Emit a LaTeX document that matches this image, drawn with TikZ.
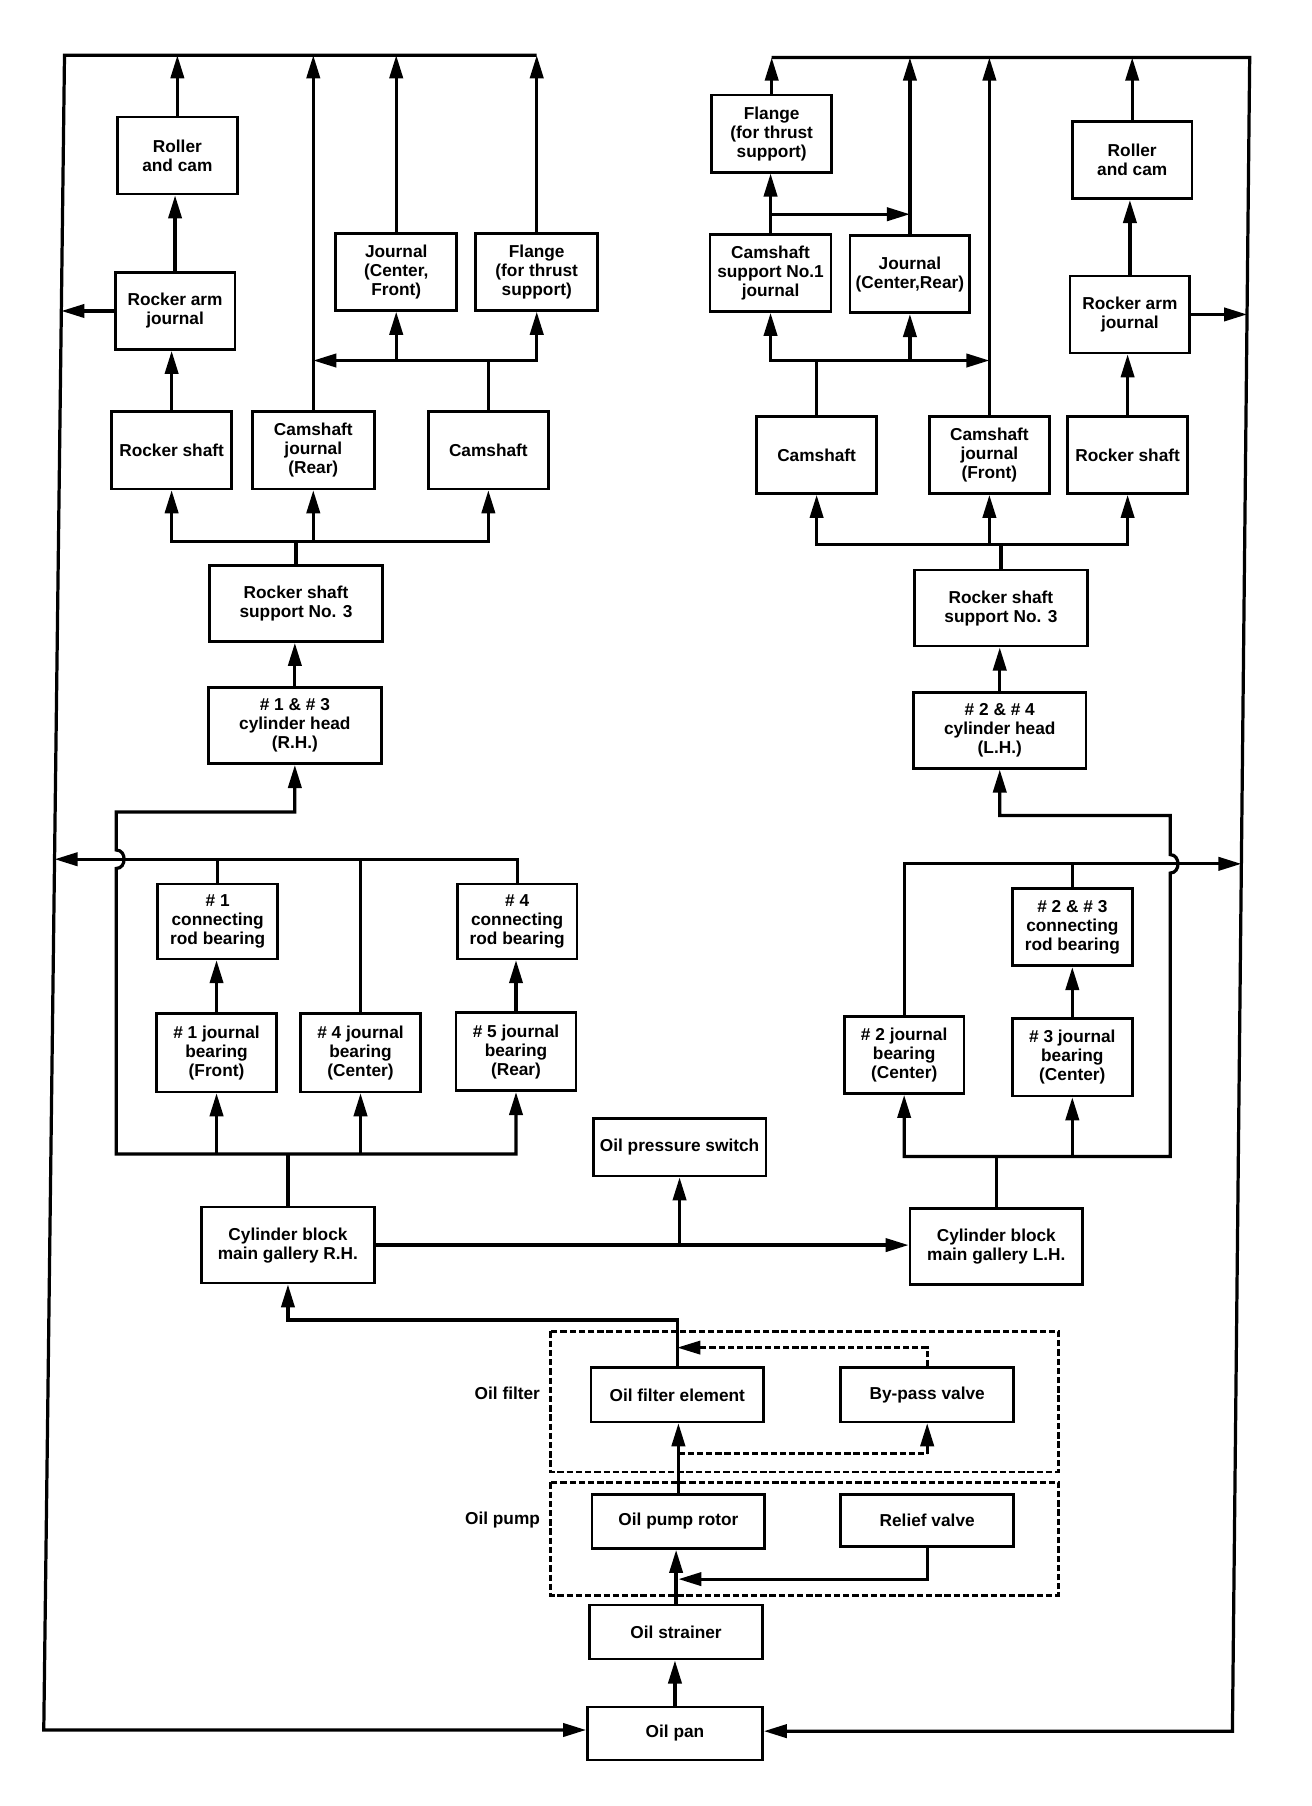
\documentclass[tikz,border=0pt]{standalone}
\usepackage{fontspec}
\setmainfont{Liberation Sans}
\usetikzlibrary{arrows.meta}
\begin{document}
\begin{tikzpicture}[x=1pt,y=-1pt,
  box/.style={draw,line width=2.3pt,align=center,inner sep=0pt,
    font=\fontsize{15}{16.5}\selectfont\bfseries,
    minimum width=104pt,minimum height=67pt},
  wide/.style={minimum width=150pt},
  low/.style={minimum height=47pt},
  lbl/.style={font=\fontsize{15}{16.5}\selectfont\bfseries,inner sep=0pt},
  ln/.style={line width=2.8pt},
  arr/.style={ln,-{Triangle[length=20pt,width=11.5pt]}},
  arrb/.style={ln,{Triangle[length=20pt,width=11.5pt]}-{Triangle[length=20pt,width=11.5pt]}},
  dsh/.style={line width=2.4pt,dash pattern=on 5.5pt off 2.5pt}
]
\fill[white] (0,0) rectangle (1139,1568);
\useasboundingbox (0,0) rectangle (1139,1568);

% ---------- left side nodes ----------
\node[box] (lrc) at (154,135) {Roller\\and cam};
\node[box] (lraj) at (152,270) {Rocker arm\\journal};
\node[box] (lrs) at (149,391) {Rocker shaft};
\node[box,minimum width=106pt] (lcj) at (272,391) {Camshaft\\journal\\(Rear)};
\node[box] (lcs) at (424,391) {Camshaft};
\node[box,minimum width=105pt] (ljcf) at (344,236) {Journal\\(Center,\\Front)};
\node[box,minimum width=106pt] (lfl) at (466,236) {Flange\\(for thrust\\support)};
\node[box,wide,minimum height=66pt] (lrss) at (257,524) {Rocker shaft\\support No. 3};
\node[box,wide,minimum height=66pt] (lch) at (256,630) {\# 1 \& \# 3\\cylinder head\\(R.H.)};
\node[box,minimum height=65pt] (lcr1) at (189,800) {\# 1\\connecting\\rod bearing};
\node[box,minimum height=65pt] (lcr4) at (449,800) {\# 4\\connecting\\rod bearing};
\node[box,minimum height=68pt] (ljb1) at (188,914) {\# 1 journal\\bearing\\(Front)};
\node[box,minimum height=68pt] (ljb4) at (313,914) {\# 4 journal\\bearing\\(Center)};
\node[box,minimum height=68pt] (ljb5) at (448,913) {\# 5 journal\\bearing\\(Rear)};
\node[box,wide,minimum height=66pt] (lmg) at (250,1081) {Cylinder block\\main gallery R.H.};
\node[box,wide,minimum height=50pt] (ops) at (590,996) {Oil pressure switch};
\node[box,wide,minimum height=66pt] (rmg) at (865,1082) {Cylinder block\\main gallery L.H.};

% ---------- right side nodes ----------
\node[box] (rfl) at (670,116) {Flange\\(for thrust\\support)};
\node[box,minimum width=105pt] (rcs1) at (669,237) {Camshaft\\support No.1\\journal};
\node[box] (rjcr) at (790,238) {Journal\\(Center,Rear)};
\node[box] (rrc) at (983,139) {Roller\\and cam};
\node[box] (rraj) at (981,273) {Rocker arm\\journal};
\node[box] (rcs) at (709,395) {Camshaft};
\node[box] (rcj) at (859,395) {Camshaft\\journal\\(Front)};
\node[box] (rrs) at (979,395) {Rocker shaft};
\node[box,wide,minimum height=66pt] (rrss) at (869,528) {Rocker shaft\\support No. 3};
\node[box,wide,minimum height=66pt] (rch) at (868,634) {\# 2 \& \# 4\\cylinder head\\(L.H.)};
\node[box] (rcr) at (931,805) {\# 2 \& \# 3\\connecting\\rod bearing};
\node[box] (rjb2) at (785,916) {\# 2 journal\\bearing\\(Center)};
\node[box] (rjb3) at (931,918) {\# 3 journal\\bearing\\(Center)};

% ---------- bottom nodes ----------
\node[box,wide,low] (ofe) at (588,1211) {Oil filter element};
\node[box,wide,low] (bpv) at (805,1211) {By-pass valve};
\node[box,wide,low] (opr) at (589,1321) {Oil pump rotor};
\node[box,wide,minimum height=45pt] (rv) at (805,1320) {Relief valve};
\node[box,wide,low] (ost) at (587,1417) {Oil strainer};
\node[box,minimum width=152pt,minimum height=46pt] (pan) at (586,1505) {Oil pan};
\node[lbl,anchor=east] (lflt) at (469,1210) {Oil filter};
\node[lbl,anchor=east] (lpmp) at (469,1320) {Oil pump};
\draw[dsh] (478,1156) rectangle (919,1278);
\draw[dsh] (478,1287) rectangle (919,1385);

% ---------- helper coordinates ----------
\coordinate (ftl) at (56,48);
\coordinate (fbl) at (38,1502);
\coordinate (ftr) at (1085,50);
\coordinate (fbr) at (1070,1503);
\coordinate (fl1) at (53.3,270);
\coordinate (fl2) at (47.4,746);
\coordinate (fr1) at (1082.7,273);
\coordinate (fr2) at (1077.8,750);
\coordinate (lh1) at (424,313);
\coordinate (lh2) at (257,470);
\coordinate (lh3) at (250,1002);
\coordinate (rh0) at (669,186);
\coordinate (rh1) at (709,313);
\coordinate (rh2) at (869,473);
\coordinate (rh3) at (865,1004);
\coordinate (rh4) at (1016,708);
\coordinate (g1) at (590,1146);
\coordinate (d1) at (806,1170);
\coordinate (d2) at (806,1262);
\coordinate (d3) at (805,1371);

% ---------- frame ----------
\draw[arr] (lfl.north |- ftl) -- (ftl) -- (fbl) -- (fbl -| pan.west);
\draw[arr] (rfl.north |- ftr) -- (ftr) -- (fbr) -- (fbr -| pan.east);

% ---------- left upper ----------
\draw[arr] (lrc.north) -- (lrc.north |- ftl);
\draw[arr] (lraj.north) -- (lraj.north |- lrc.south);
\draw[arr] (lraj.west) -- (fl1);
\draw[arr] (lrs.north) -- (lrs.north |- lraj.south);
\draw[arr] (lcj.north) -- (lcj.north |- ftl);
\draw[ln] (lcs.north) -- (lh1);
\draw[arrb] (lcj.north |- lh1) -| (lfl.south);
\draw[arr] (ljcf.south |- lh1) -- (ljcf.south);
\draw[arr] (ljcf.north) -- (ljcf.north |- ftl);
\draw[arr] (lfl.north) -- (lfl.north |- ftl);
\draw[arrb] (lrs.south) |- (lh2) -| (lcs.south);
\draw[arr] (lcj.south |- lh2) -- (lcj.south);
\draw[ln] (lrss.north) -- (lh2);
\draw[arr] (lch.north) -- (lch.north |- lrss.south);

% ---------- left lower ----------
\draw[arrb] (ljb5.south) |- (101,1002) -- (101,754)
  .. controls (110,754) and (110,738) .. (101,738) -- (101,705) -| (lch.south);
\draw[arr] (ljb1.south |- lh3) -- (ljb1.south);
\draw[arr] (ljb4.south |- lh3) -- (ljb4.south);
\draw[ln] (lmg.north) -- (lh3);
\draw[arr] (lcr4.north) |- (fl2);
\draw[ln] (lcr1.north) -- (lcr1.north |- fl2);
\draw[ln] (ljb4.north) -- (ljb4.north |- fl2);
\draw[arr] (ljb1.north) -- (ljb1.north |- lcr1.south);
\draw[arr] (ljb5.north) -- (ljb5.north |- lcr4.south);

% ---------- right upper ----------
\draw[arr] (rfl.north) -- (rfl.north |- ftr);
\draw[arr] (rcs1.north) -- (rcs1.north |- rfl.south);
\draw[arr] (rcs1.north |- rh0) -- (rjcr.north |- rh0);
\draw[arr] (rjcr.north) -- (rjcr.north |- ftr);
\draw[arr] (rcj.north) -- (rcj.north |- ftr);
\draw[arr] (rrc.north) -- (rrc.north |- ftr);
\draw[arr] (rraj.north) -- (rraj.north |- rrc.south);
\draw[arr] (rraj.east) -- (fr1);
\draw[arr] (rrs.north) -- (rrs.north |- rraj.south);
\draw[ln] (rcs.north) -- (rh1);
\draw[arrb] (rcs1.south) |- (rcj.north |- rh1);
\draw[arr] (rjcr.south |- rh1) -- (rjcr.south);
\draw[arrb] (rcs.south) |- (rh2) -| (rrs.south);
\draw[arr] (rcj.south |- rh2) -- (rcj.south);
\draw[ln] (rrss.north) -- (rh2);
\draw[arr] (rch.north) -- (rch.north |- rrss.south);

% ---------- right lower ----------
\draw[arrb] (rjb2.south) |- (1016,1004) -- (1016,758)
  .. controls (1025,758) and (1025,742) .. (1016,742) -- (rh4) -| (rch.south);
\draw[arr] (rjb3.south |- rh3) -- (rjb3.south);
\draw[ln] (rmg.north) -- (rh3);
\draw[arr] (rjb2.north) |- (fr2);
\draw[ln] (rcr.north) -- (rcr.north |- fr2);
\draw[arr] (rjb3.north) -- (rjb3.north |- rcr.south);

% ---------- oil circuit ----------
\draw[arr] (lmg.east) -- (lmg.east -| rmg.west);
\draw[arr] (ops.south |- lmg.east) -- (ops.south);
\draw[arr] (ofe.north) -- (ofe.north |- g1) -| (lmg.south);
\draw[dsh,-{Triangle[length=20pt,width=11.5pt]}] (bpv.north) |- (ofe.north |- d1);
\draw[dsh] (opr.north |- d2) -- (bpv.south |- d2);
\draw[arr] (bpv.south |- d2) -- (bpv.south);
\draw[arr] (opr.north) -- (opr.north |- ofe.south);
\draw[arr] (rv.south) |- (opr.south |- d3);
\draw[arr] (ost.north) -- (ost.north |- opr.south);
\draw[arr] (pan.north) -- (pan.north |- ost.south);
\end{tikzpicture}
\end{document}
